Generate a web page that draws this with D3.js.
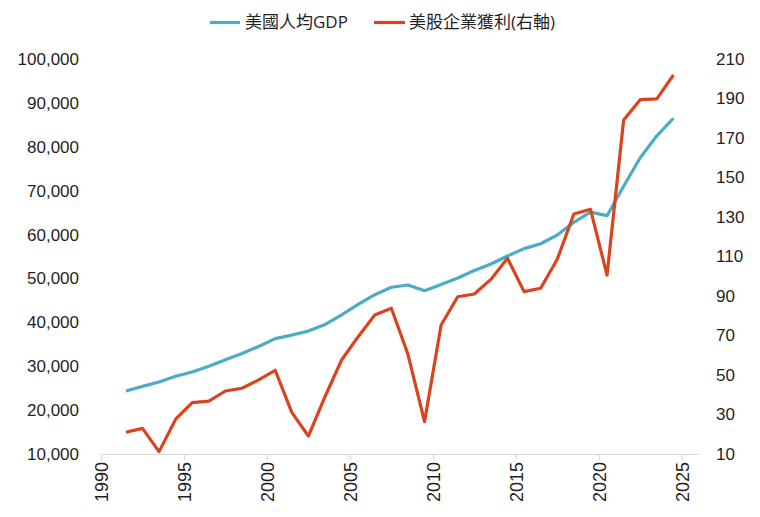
<!DOCTYPE html>
<html>
<head>
<meta charset="utf-8">
<script src="https://cdn.jsdelivr.net/npm/d3@7/dist/d3.min.js"></script>
<style>
  html, body { margin: 0; padding: 0; background: #fff; }
  svg { display: block; font-family: "Open Sans", "Noto Sans CJK TC", sans-serif; }
</style>
</head>
<body>
<svg id="chart" width="760" height="517"></svg>
<script>
const years = [1991,1992,1993,1994,1995,1996,1997,1998,1999,2000,2001,2002,2003,2004,2005,2006,2007,2008,2009,2010,2011,2012,2013,2014,2015,2016,2017,2018,2019,2020,2021,2022,2023,2024];
const gdpPerCapita = [24350,25400,26400,27700,28700,30000,31500,32900,34500,36300,37100,38000,39500,41700,44100,46300,48000,48500,47200,48600,50100,51800,53300,55100,56800,57900,59900,62800,65100,64300,71000,77500,82500,86500];
const corpProfits = [21.0,23.0,11.2,27.6,36.0,36.8,41.9,43.3,47.5,52.4,31.1,19.1,39.0,57.6,69.4,80.4,83.8,60.5,26.4,75.3,89.6,91.0,98.4,109.1,92.2,93.9,108.6,131.5,133.9,100.6,179.1,189.4,189.8,201.9];
const xTicks = [1990,1995,2000,2005,2010,2015,2020,2025];
const leftTicks = [10000,20000,30000,40000,50000,60000,70000,80000,90000,100000];
const rightTicks = [10,30,50,70,90,110,130,150,170,190,210];
const seriesNames = ["美國人均GDP", "美股企業獲利(右軸)"];
const colors = ["#4bacc6", "#d9431e"];

const svg = d3.select("#chart");
const x = d3.scaleLinear().domain([1990, 2026]).range([101, 698.3]);
const yL = d3.scaleLinear().domain([10000, 100000]).range([454, 59]);
const yR = d3.scaleLinear().domain([10, 210]).range([454, 59]);
const textColor = "#1f1f1f";

// X axis
const gx = svg.append("g").attr("transform", "translate(0,454)")
  .call(d3.axisBottom(x).tickValues(xTicks).tickFormat(d3.format("d")).tickSize(6).tickSizeOuter(0));
gx.select(".domain").attr("stroke", "#d9d9d9").attr("stroke-width", 1.2);
gx.selectAll(".tick line").attr("stroke", "#d9d9d9").attr("stroke-width", 1.2);
gx.selectAll(".tick text")
  .attr("y", 0).attr("x", -8).attr("dy", "0.35em")
  .attr("transform", "rotate(-90)")
  .style("text-anchor", "end")
  .attr("fill", textColor)
  .style("font-size", "18px");

// Left axis
const gl = svg.append("g").attr("transform", "translate(79,0)")
  .call(d3.axisLeft(yL).tickValues(leftTicks).tickFormat(d3.format(",")).tickSize(0).tickPadding(0));
gl.select(".domain").remove();
gl.selectAll(".tick text").attr("fill", textColor).style("font-size", "17px");

// Right axis
const gr = svg.append("g").attr("transform", "translate(716,0)")
  .call(d3.axisRight(yR).tickValues(rightTicks).tickSize(0).tickPadding(0));
gr.select(".domain").remove();
gr.selectAll(".tick text").attr("fill", textColor).style("font-size", "17px");

// Lines
const lineL = d3.line().x((d, i) => x(years[i] + 0.5)).y(d => yL(d));
const lineR = d3.line().x((d, i) => x(years[i] + 0.5)).y(d => yR(d));
svg.append("path").datum(gdpPerCapita).attr("d", lineL)
  .attr("fill", "none").attr("stroke", colors[0]).attr("stroke-width", 3.2).attr("stroke-linejoin", "round");
svg.append("path").datum(corpProfits).attr("d", lineR)
  .attr("fill", "none").attr("stroke", colors[1]).attr("stroke-width", 3.2).attr("stroke-linejoin", "round");

// Legend
const legend = [
  { x1: 210, x2: 240, tx: 245 },
  { x1: 374, x2: 405, tx: 409 }
];
legend.forEach((l, i) => {
  svg.append("line").attr("x1", l.x1).attr("x2", l.x2).attr("y1", 22.5).attr("y2", 22.5)
    .attr("stroke", colors[i]).attr("stroke-width", 3.2);
  svg.append("text").attr("x", l.tx).attr("y", 22.5).attr("dy", "0.35em")
    .attr("fill", textColor).style("font-size", "17px")
    .text(seriesNames[i]);
});
</script>
</body>
</html>
